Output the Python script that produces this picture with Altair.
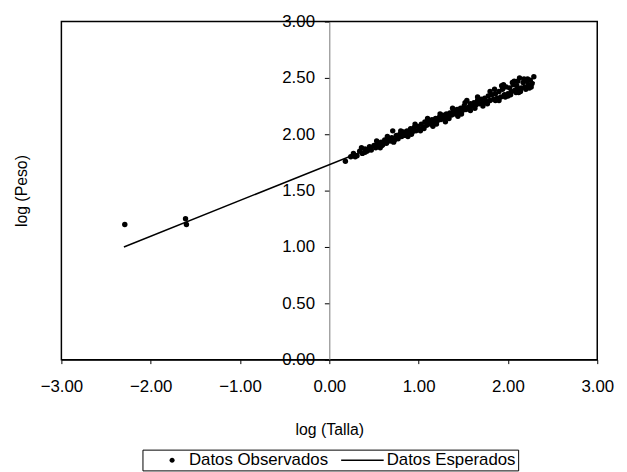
import altair as alt
import pandas as pd

# Observed points (log Talla, log Peso)
obs_x = [-2.29, -1.61, -1.60,
         0.18, 0.24, 0.27, 0.31, 0.34, 0.37, 0.40, 0.42, 0.45, 0.47, 0.50, 0.52, 0.54, 0.56, 0.58, 0.60,
         0.62, 0.64, 0.66, 0.68, 0.70, 0.71, 0.73, 0.75, 0.77, 0.79, 0.81, 0.83, 0.85, 0.87, 0.89, 0.91,
         0.93, 0.95, 0.97, 0.99, 1.01, 1.03, 1.05, 1.07, 1.09, 1.11, 1.13, 1.15, 1.17, 1.19, 1.21, 1.23,
         1.25, 1.27, 1.29, 1.31, 1.33, 1.35, 1.37, 1.39, 1.41, 1.43, 1.45, 1.47, 1.49, 1.51, 1.53, 1.54,
         1.56, 1.58, 1.60, 1.62, 1.64, 1.66, 1.68, 1.70, 1.72, 1.74, 1.76, 1.78, 1.80, 1.82, 1.84, 1.86,
         1.88, 1.90, 1.92, 1.94, 1.96, 1.98, 2.00, 2.02, 2.04, 2.06, 2.08, 2.10, 2.12, 2.13, 2.15, 2.17,
         2.19, 2.21, 2.23, 2.25, 2.27, 2.29,
         0.29, 0.44, 0.59, 0.76, 0.92, 1.06, 1.20, 1.34, 1.48, 1.63, 1.77, 1.90, 1.97, 2.03, 2.09, 2.14,
         2.20, 2.26, 1.85, 1.95, 2.05, 2.11, 2.22,
         0.36, 0.53, 0.65, 0.80, 0.96, 1.10, 1.24, 1.38, 1.52, 1.66, 1.80, 1.93, 2.07, 2.18,
         0.40, 0.57, 0.72, 0.88, 1.02, 1.16, 1.30, 1.44, 1.58, 1.72, 1.86, 2.00, 2.12, 2.24]
obs_y = [1.20, 1.25, 1.20,
         1.76, 1.80, 1.83, 1.81, 1.85, 1.83, 1.87, 1.85, 1.89, 1.86, 1.90, 1.88, 1.92, 1.90, 1.93, 1.91,
         1.95, 1.92, 1.96, 1.94, 1.97, 2.03, 1.95, 1.99, 1.96, 2.00, 1.98, 2.02, 1.99, 2.03, 2.01, 2.05,
         2.02, 2.06, 2.03, 2.07, 2.05, 2.09, 2.06, 2.11, 2.08, 2.12, 2.09, 2.13, 2.10, 2.14, 2.12, 2.15,
         2.13, 2.17, 2.14, 2.18, 2.16, 2.19, 2.17, 2.21, 2.18, 2.22, 2.20, 2.23, 2.21, 2.25, 2.22, 2.30,
         2.24, 2.27, 2.25, 2.28, 2.26, 2.30, 2.27, 2.31, 2.28, 2.32, 2.29, 2.34, 2.30, 2.35, 2.31, 2.36,
         2.32, 2.38, 2.33, 2.40, 2.35, 2.42, 2.36, 2.41, 2.38, 2.44, 2.39, 2.43, 2.40, 2.50, 2.41, 2.46,
         2.42, 2.47, 2.44, 2.48, 2.45, 2.51,
         1.80, 1.86, 1.90, 1.97, 2.00, 2.05, 2.09, 2.14, 2.18, 2.23, 2.27, 2.30, 2.33, 2.35, 2.37, 2.38,
         2.40, 2.42, 2.40, 2.44, 2.46, 2.47, 2.49,
         1.88, 1.94, 1.98, 2.03, 2.09, 2.14, 2.18, 2.23, 2.28, 2.33, 2.38, 2.43, 2.47, 2.49,
         1.84, 1.88, 1.93, 1.98, 2.03, 2.07, 2.11, 2.16, 2.21, 2.25, 2.30, 2.34, 2.37, 2.41]

# Expected (fitted) line
esp_x = [-2.30, 2.30]
esp_y = [1.00, 2.46]

x_ticks = [-3, -2, -1, 0, 1, 2, 3]
y_ticks = [0, 0.5, 1, 1.5, 2, 2.5, 3]
series = ["Datos Observados", "Datos Esperados"]

obs_df = pd.DataFrame({"x": obs_x, "y": obs_y})
esp_df = pd.DataFrame({"x": esp_x, "y": esp_y})
leg_df = pd.DataFrame({"serie": series})

FONT = "Liberation Sans"

x_enc = alt.X(
    "x:Q",
    scale=alt.Scale(domain=[-3, 3], nice=False, zero=False),
    axis=alt.Axis(values=x_ticks, format=".2f", title="log (Talla)", labelFlush=False,
                  grid=False, tickSize=4, labelPadding=15, titlePadding=28,
                  labelOverlap=False),
)
y_enc = alt.Y(
    "y:Q",
    scale=alt.Scale(domain=[0, 3], nice=False, zero=False),
    axis=alt.Axis(values=y_ticks, format=".2f", title="log (Peso)", offset=-271,
                  titleX=-311, titleY=171, titleAngle=270, titleBaseline="middle",
                  titleAlign="center", tickSize=5, labelPadding=10, grid=False,
                  domainColor="#777777", labelOverlap=False, labelFlush=False),
)

# legend symbols: small filled dot and a long thin horizontal bar (drawn as filled paths)
dot_path = "M1.99,0A0.3,0.3,0,1,0,2.59,0A0.3,0.3,0,1,0,1.99,0Z"
line_path = "M-1.12,-0.085L3.94,-0.085L3.94,0.085L-1.12,0.085Z"

leg = alt.Legend(title=None, orient="none", legendX=82, legendY=433, direction="horizontal",
                 strokeColor="black", padding=2, labelFontSize=17, labelFont=FONT,
                 labelColor="black", symbolSize=289, symbolStrokeWidth=0, symbolOpacity=1,
                 symbolFillColor="black", columnPadding=12, labelOffset=28)

line = alt.Chart(esp_df).mark_line(color="black", strokeWidth=1.5).encode(x=x_enc, y=y_enc)

points = alt.Chart(obs_df).mark_point(filled=True, size=30, color="black", opacity=1).encode(
    x=x_enc, y=y_enc
)

legend_layer = alt.Chart(leg_df).mark_point(
    filled=True, color="black", opacity=0, size=289
).encode(
    shape=alt.Shape("serie:N", scale=alt.Scale(domain=series, range=[dot_path, line_path]), legend=leg)
)

chart = (
    alt.layer(line, points, legend_layer)
    .properties(width=542, height=342, padding={"top": 2, "left": 6, "right": 5, "bottom": 5})
    .configure_view(stroke="black", strokeWidth=1.5)
    .configure_axis(labelFont=FONT, titleFont=FONT, labelFontSize=17, titleFontSize=16,
                    labelColor="black", titleColor="black", tickColor="black",
                    domainColor="black", titleFontWeight="normal")
)

chart.save("out.html", embed_options={"renderer": "svg", "actions": False})
